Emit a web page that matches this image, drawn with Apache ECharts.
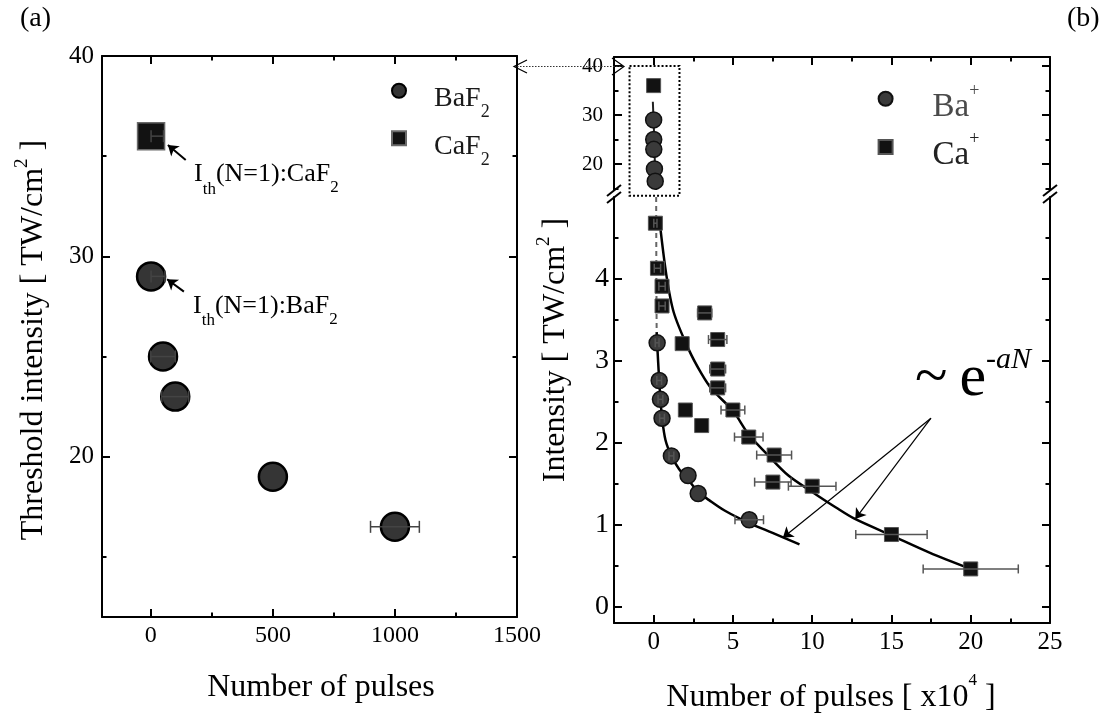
<!DOCTYPE html>
<html><head><meta charset="utf-8">
<script src="https://cdn.jsdelivr.net/npm/echarts@6.0.0/dist/echarts.min.js"></script>
<style>html,body{margin:0;padding:0;background:#fff;}#c{width:1106px;height:713px;}</style>
</head><body><div id="c"></div>
<script>
// ---------------- data ----------------
// (a) threshold intensity vs number of pulses
const aBaN = [1, 50, 100, 500, 1000];
const aBaI = [29, 25, 23, 19, 16.5];
const aBaLo = [1, 0, 45, 500, 900];
const aBaHi = [58, 100, 155, 500, 1100];
const aCaN = [1];
const aCaI = [36];
const aCaLo = [1];
const aCaHi = [52];
// (b) upper segment (x10^4 pulses)
const bBaUpN = [0.0001, 0.005, 0.01, 0.05, 0.1];
const bBaUpI = [29, 25, 23, 19, 16.5];
const bCaUpN = [0.0001];
const bCaUpI = [36];
// (b) lower segment
const bBaN = [0.22, 0.35, 0.43, 0.53, 1.12, 2.17, 2.81, 6.03];
const bBaI = [3.22, 2.76, 2.53, 2.30, 1.84, 1.60, 1.38, 1.06];
const bBaErr = [0.12, 0.15, 0.15, 0.15, 0.15, 0, 0, 0.9];
const bCaN = [0.11, 0.24, 0.53, 0.53, 1.8, 3.22, 4.04, 4.04, 4.04, 2.0, 5.0, 3.03, 6.0, 7.6, 7.52, 10.0, 15.0, 20.0];
const bCaI = [4.68, 4.13, 3.91, 3.67, 3.21, 3.585, 3.26, 2.90, 2.67, 2.40, 2.40, 2.21, 2.07, 1.85, 1.52, 1.47, 0.88, 0.46];
const bCaErr = [0.1, 0.2, 0.2, 0.2, 0, 0.45, 0.58, 0.5, 0.5, 0, 0.75, 0, 0.9, 1.1, 1.15, 1.5, 2.25, 3.0];
// fitted curves (~ e^-aN)
const fitBaUpN = [-0.05, 0.03, 0.08, 0.12, 0.17];
const fitBaUpI = [32.7, 26, 20, 17, 14.7];
const fitBaDashN = [0.16, 0.17, 0.19];
const fitBaDashI = [5.0, 4.2, 3.35];
const fitBaN = [0.19, 0.22, 0.35, 0.43, 0.53, 0.75, 1.12, 1.6, 2.17, 2.81, 3.5, 4.5, 6.03, 7.5, 9.2];
const fitBaI = [3.35, 3.22, 2.76, 2.53, 2.30, 2.03, 1.84, 1.68, 1.55, 1.40, 1.30, 1.17, 1.02, 0.90, 0.76];
const fitCaN = [0.39, 0.8, 1.27, 2.21, 3.0, 3.69, 5.0, 6.0, 7.2, 8.5, 10.0, 11.5, 12.7, 15.0, 17.4, 20.0];
const fitCaI = [4.68, 4.05, 3.59, 3.14, 2.85, 2.65, 2.39, 2.10, 1.85, 1.60, 1.40, 1.21, 1.07, 0.87, 0.66, 0.46];
// annotation arrows (data coordinates)
const aArrowCa = [[142.9, 34.81], [69.9, 35.56]];
const aArrowBa = [[135.5, 28.24], [66.7, 28.86]];
const bArrowApex = [17.49, 2.30];
const bArrowTips = [[8.15, 0.84], [12.72, 1.07]];
const bBoxN = [-1.52, 1.63];
const bBoxI = [40, 13.55];
// ticks
const aXMajor = [0, 500, 1000, 1500], aXMinor = [250, 750, 1250];
const aYMajor = [20, 30, 40], aYMinor = [15, 25, 35];
const bXMajor = [0, 5, 10, 15, 20, 25], bXMinor = [2.5, 7.5, 12.5, 17.5, 22.5];
const bUpYMajor = [20, 30, 40], bUpYMinor = [15, 25, 35];
const bLoYMajor = [0, 1, 2, 3, 4], bLoYMinor = [0.5, 1.5, 2.5, 3.5, 4.5];

// ---------------- helpers ----------------
const FONT = 'Liberation Serif';
const K = 0.3375;
function zip(a, b) { return a.map((v, i) => [v, b[i]]); }

function richBlock(parts, centerY) {
  const a = parts.map(p => p.b - (K + 0.5) * p.fs);
  let top = Math.min.apply(null, a);
  const bottomNeed = Math.max.apply(null, parts.map((p, i) => a[i] + p.fs));
  let H;
  if (centerY != null) {
    top = Math.min(top, 2 * centerY - bottomNeed);
    H = 2 * (centerY - top);
  } else {
    H = bottomNeed - top;
  }
  const rich = {}; let text = '';
  parts.forEach((p, i) => {
    const pt = a[i] - top, pb = H - pt - p.fs;
    rich['t' + i] = Object.assign({
      fontSize: p.fs, lineHeight: p.fs, fontFamily: FONT, verticalAlign: 'top',
      padding: [pt, 0, pb, p.pl || 0], color: p.color || '#000'
    }, p.extra || {});
    text += '{t' + i + '|' + p.s + '}';
  });
  return { text, rich, top, H };
}

const xAxis = [], yAxis = [];
function axis(list, grid, pos, min, max, major, minor, labels, labelStyle) {
  const idx = list.length;
  const fs = labelStyle ? labelStyle.fontSize : 24;
  list.push({
    type: 'value', gridIndex: grid, position: pos, min, max,
    axisLine: { show: true, onZero: false, lineStyle: { color: '#000', width: 2 } },
    axisTick: { show: true, inside: true, length: 8, customValues: major, lineStyle: { color: '#000', width: 2 } },
    axisLabel: labels ? {
      show: true, customValues: labels, margin: labelStyle.margin, hideOverlap: false,
      formatter: v => '{n|' + String(v) + '}',
      rich: { n: { fontSize: fs, fontFamily: FONT, color: '#000' } }
    } : { show: false },
    splitLine: { show: false }, minorTick: { show: false }
  });
  list.push({
    type: 'value', gridIndex: grid, position: pos, min, max,
    axisLine: { show: false, onZero: false },
    axisTick: { show: true, inside: true, length: 4.5, customValues: minor, lineStyle: { color: '#000', width: 2 } },
    axisLabel: { show: false }, splitLine: { show: false }, minorTick: { show: false }
  });
  return idx;
}

const XA0 = axis(xAxis, 0, 'bottom', -200, 1500, aXMajor, aXMinor, aXMajor, { fontSize: 24, margin: 7 });
axis(xAxis, 0, 'top', -200, 1500, aXMajor, aXMinor, null);
const XA1 = axis(xAxis, 1, 'top', -2.5, 25, bXMajor, bXMinor, null);
const XA2 = axis(xAxis, 2, 'bottom', -2.5, 25, bXMajor, bXMinor, bXMajor, { fontSize: 25, margin: 7 });
const YA0 = axis(yAxis, 0, 'left', 12, 40, aYMajor, aYMinor, aYMajor, { fontSize: 25, margin: 8 });
axis(yAxis, 0, 'right', 12, 40, aYMajor, aYMinor, null);
const YA1 = axis(yAxis, 1, 'left', 14.7, 41.84, bUpYMajor, bUpYMinor, bUpYMajor, { fontSize: 21, margin: 11 });
axis(yAxis, 1, 'right', 14.7, 41.84, bUpYMajor, bUpYMinor, null);
const YA2 = axis(yAxis, 2, 'left', -0.2, 5, bLoYMajor, bLoYMinor, bLoYMajor, { fontSize: 28, margin: 5 });
axis(yAxis, 2, 'right', -0.2, 5, bLoYMajor, bLoYMinor, null);

function errBars(xi, yi, xs, ys, lo, hi, cap, color, width) {
  const data = [];
  xs.forEach((x, i) => { if (hi[i] > lo[i]) data.push([x, ys[i], lo[i], hi[i]]); });
  return {
    type: 'custom', xAxisIndex: xi, yAxisIndex: yi, z: 4, silent: true, data,
    renderItem(params, api) {
      const y = api.value(1);
      const p1 = api.coord([api.value(2), y]), p2 = api.coord([api.value(3), y]);
      const st = { stroke: color, lineWidth: width, fill: null };
      return { type: 'group', children: [
        { type: 'line', shape: { x1: p1[0], y1: p1[1], x2: p2[0], y2: p2[1] }, style: st },
        { type: 'line', shape: { x1: p1[0], y1: p1[1] - cap / 2, x2: p1[0], y2: p1[1] + cap / 2 }, style: st },
        { type: 'line', shape: { x1: p2[0], y1: p2[1] - cap / 2, x2: p2[0], y2: p2[1] + cap / 2 }, style: st }
      ] };
    }
  };
}

const baStyleA = { color: '#353535', borderColor: '#000', borderWidth: 2.5, opacity: 1 };
const caStyleA = { color: '#121212', borderColor: '#6a6a6a', borderWidth: 1.5, opacity: 1 };
const baStyleB = { color: '#3a3a3a', borderColor: '#111', borderWidth: 1.5, opacity: 1 };
const caStyleB = { color: '#121212', borderColor: '#555', borderWidth: 1, opacity: 1 };

const series = [
  // ---- panel (a)
  { type: 'scatter', name: 'BaF2', xAxisIndex: XA0, yAxisIndex: YA0, data: zip(aBaN, aBaI), symbol: 'circle', symbolSize: 28, itemStyle: baStyleA, z: 3 },
  { type: 'scatter', name: 'CaF2', xAxisIndex: XA0, yAxisIndex: YA0, data: zip(aCaN, aCaI), symbol: 'rect', symbolSize: 27, itemStyle: caStyleA, z: 3 },
  errBars(XA0, YA0, aBaN, aBaI, aBaLo, aBaHi, 12, '#444', 1.5),
  errBars(XA0, YA0, aCaN, aCaI, aCaLo, aCaHi, 12, '#444', 1.5),
  { type: 'lines', coordinateSystem: 'cartesian2d', xAxisIndex: XA0, yAxisIndex: YA0, symbol: ['none', 'arrow'], symbolSize: [0, 10],
    lineStyle: { color: '#000', width: 2, opacity: 1, curveness: 0 }, data: [{ coords: aArrowCa }, { coords: aArrowBa }], z: 5, silent: true },
  // ---- panel (b) upper
  { type: 'line', xAxisIndex: XA1, yAxisIndex: YA1, data: zip(fitBaUpN, fitBaUpI), showSymbol: false, lineStyle: { color: '#222', width: 2 }, z: 1, silent: true },
  { type: 'scatter', name: 'Ba+', xAxisIndex: XA1, yAxisIndex: YA1, data: zip(bBaUpN, bBaUpI), symbol: 'circle', symbolSize: 16, itemStyle: baStyleB, z: 3 },
  { type: 'scatter', name: 'Ca+', xAxisIndex: XA1, yAxisIndex: YA1, data: zip(bCaUpN, bCaUpI), symbol: 'rect', symbolSize: 14, itemStyle: caStyleB, z: 3 },
  { type: 'custom', xAxisIndex: XA1, yAxisIndex: YA1, clip: false, silent: true, z: 2, data: [[bBoxN[0], bBoxI[0], bBoxN[1], bBoxI[1]]],
    renderItem(params, api) {
      const a = api.coord([api.value(0), api.value(1)]), b = api.coord([api.value(2), api.value(3)]);
      return { type: 'rect', shape: { x: a[0], y: a[1], width: b[0] - a[0], height: b[1] - a[1] }, style: { fill: null, stroke: '#000', lineWidth: 2, lineDash: [2, 2] } };
    } },
  // ---- panel (b) lower
  { type: 'line', xAxisIndex: XA2, yAxisIndex: YA2, data: zip(fitBaDashN, fitBaDashI), showSymbol: false, lineStyle: { color: '#666', width: 2, type: [5, 4] }, z: 1, silent: true },
  { type: 'line', xAxisIndex: XA2, yAxisIndex: YA2, data: zip(fitBaN, fitBaI), showSymbol: false, smooth: 0.3, lineStyle: { color: '#000', width: 2.5 }, z: 1, silent: true },
  { type: 'line', xAxisIndex: XA2, yAxisIndex: YA2, data: zip(fitCaN, fitCaI), showSymbol: false, smooth: 0.3, lineStyle: { color: '#000', width: 2.5 }, z: 1, silent: true },
  { type: 'scatter', name: 'Ba+', xAxisIndex: XA2, yAxisIndex: YA2, data: zip(bBaN, bBaI), symbol: 'circle', symbolSize: 16, itemStyle: baStyleB, z: 3 },
  { type: 'scatter', name: 'Ca+', xAxisIndex: XA2, yAxisIndex: YA2, data: zip(bCaN, bCaI), symbol: 'rect', symbolSize: 14, itemStyle: caStyleB, z: 3 },
  errBars(XA2, YA2, bBaN, bBaI, bBaN.map((x, i) => x - bBaErr[i]), bBaN.map((x, i) => x + bBaErr[i]), 9, '#555', 1.5),
  errBars(XA2, YA2, bCaN, bCaI, bCaN.map((x, i) => x - bCaErr[i]), bCaN.map((x, i) => x + bCaErr[i]), 9, '#555', 1.5),
  { type: 'lines', coordinateSystem: 'cartesian2d', xAxisIndex: XA2, yAxisIndex: YA2, symbol: ['none', 'arrow'], symbolSize: [0, 10],
    lineStyle: { color: '#000', width: 1.2, opacity: 1, curveness: 0 }, data: bArrowTips.map(t => ({ coords: [bArrowApex, t] })), z: 5, silent: true }
];

// ---------------- legends ----------------
function legendItem(name, icon, cx, cy, textLeft, parts) {
  const rb = richBlock(parts, cy);
  const L = cx - 7;
  rb.rich.t0.padding[3] = textLeft - (L + 14 + 5);
  return {
    show: true, orient: 'vertical', left: L, top: rb.top, padding: 0, itemGap: 0,
    itemWidth: 14, itemHeight: 14, selectedMode: false, data: [{ name, icon }],
    formatter: () => rb.text, textStyle: { rich: rb.rich }
  };
}
const legend = [
  legendItem('BaF2', 'circle', 398, 99, 433, [{ s: 'BaF', fs: 28, b: 108.3, color: '#1a1a1a' }, { s: '2', fs: 18, b: 118.3, color: '#1a1a1a' }]),
  legendItem('CaF2', 'rect', 398, 146.7, 433, [{ s: 'CaF', fs: 28, b: 156.3, color: '#1a1a1a' }, { s: '2', fs: 18, b: 166.3, color: '#1a1a1a' }]),
  legendItem('Ba+', 'circle', 884.6, 107.7, 931.6, [{ s: 'Ba', fs: 33, b: 118.3, color: '#4a4a4a' }, { s: '+', fs: 18, b: 97.3, color: '#4a4a4a' }]),
  legendItem('Ca+', 'rect', 884.6, 156, 931.6, [{ s: 'Ca', fs: 33, b: 166.6, color: '#222' }, { s: '+', fs: 18, b: 145.6, color: '#222' }])
];

// ---------------- texts & decorations ----------------
function gText(x, parts, align) {
  const rb = richBlock(parts);
  return { type: 'text', x: x, y: rb.top, silent: true, z: 10,
    style: { text: rb.text, rich: rb.rich, x: 0, y: 0, align: align || 'left', verticalAlign: 'top' } };
}
function gRotText(cx, cy, parts) {
  const rb = richBlock(parts, 0);
  return { type: 'text', x: cx, y: cy, rotation: Math.PI / 2, silent: true, z: 10,
    style: { text: rb.text, rich: rb.rich, x: 0, y: 0, align: 'center', verticalAlign: 'middle' } };
}
const ln = (x1, y1, x2, y2, extra) => ({ type: 'line', silent: true, z: 10, shape: { x1, y1, x2, y2 }, style: Object.assign({ stroke: '#000', lineWidth: 2 }, extra || {}) });
const pl = (pts, extra) => ({ type: 'polyline', silent: true, z: 10, shape: { points: pts }, style: Object.assign({ stroke: '#000', lineWidth: 1.2, fill: null }, extra || {}) });

const graphic = [
  gText(20, [{ s: '(a)', fs: 28, b: 28 }]),
  gText(1067, [{ s: '(b)', fs: 28, b: 28 }]),
  gText(194, [{ s: 'I', fs: 26, b: 183.3 }, { s: 'th', fs: 17, b: 195 }, { s: '(N=1):CaF', fs: 26, b: 183.3 }, { s: '2', fs: 17, b: 193 }]),
  gText(193, [{ s: 'I', fs: 26, b: 315 }, { s: 'th', fs: 17, b: 326 }, { s: '(N=1):BaF', fs: 26, b: 315 }, { s: '2', fs: 17, b: 325 }]),
  gText(915, [{ s: '~\u2009e', fs: 60, b: 399 }, { s: '-aN', fs: 30, b: 370, extra: { fontStyle: 'italic' } }]),
  gRotText(29, 340, [{ s: 'Threshold intensity [ TW/cm', fs: 32, b: 11 }, { s: '2', fs: 19, b: -4 }, { s: ' ]', fs: 32, b: 11 }]),
  gRotText(551, 350, [{ s: 'Intensity [ TW/cm', fs: 32, b: 11 }, { s: '2', fs: 19, b: -4 }, { s: ' ]', fs: 32, b: 11 }]),
  gText(321, [{ s: 'Number of pulses', fs: 32, b: 698 }], 'center'),
  gText(831, [{ s: 'Number of pulses [ x10', fs: 32, b: 708 }, { s: '4', fs: 17, b: 686 }, { s: ' ]', fs: 32, b: 708 }], 'center'),
  // dotted link between panels
  ln(514, 66.5, 623, 66.5, { lineWidth: 1.2, lineDash: [1.5, 1.5], stroke: '#333' }),
  pl([[527, 60], [514, 66.5], [527, 73]]),
  pl([[612, 58], [624, 66.5], [612, 75]]),
  // axis break marks
  ln(607, 196, 621, 185), ln(607, 203, 621, 192),
  ln(1043, 196, 1057, 185), ln(1043, 203, 1057, 192)
];

const chart = echarts.init(document.getElementById('c'), null, { renderer: 'canvas' });
chart.setOption({
  animation: false,
  backgroundColor: '#fff',
  textStyle: { fontFamily: FONT },
  grid: [
    { left: 102, top: 56, width: 415, height: 561, outerBoundsMode: 'none' },
    { left: 614, top: 57, width: 436, height: 133, outerBoundsMode: 'none' },
    { left: 614, top: 197, width: 436, height: 426, outerBoundsMode: 'none' }
  ],
  xAxis, yAxis, series, legend, graphic
});
</script></body></html>
